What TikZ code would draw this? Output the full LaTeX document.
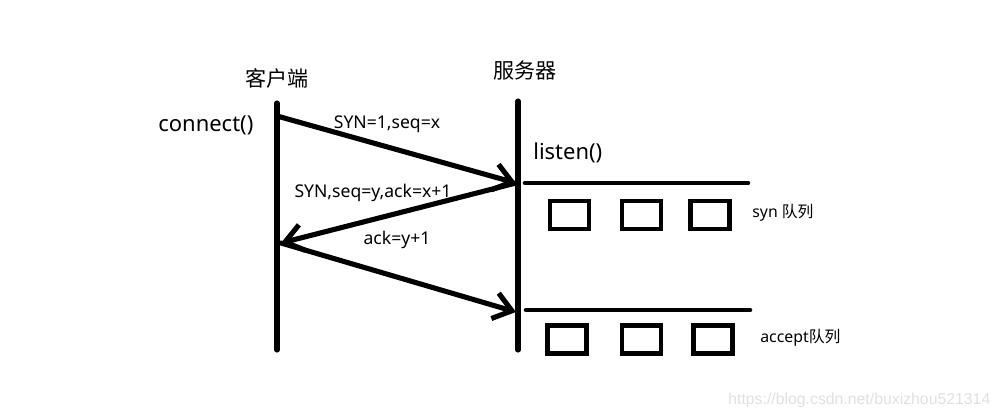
\documentclass[tikz,border=0pt]{standalone}
\usepackage{fontspec}
\setmainfont{Noto Sans}
\newfontfamily\cjk{Noto Sans CJK SC}
\newfontfamily\markfont{Liberation Sans}
\usetikzlibrary{arrows.meta, positioning}

\begin{document}
\begin{tikzpicture}[
    x=0.02cm, y=-0.02cm,
    line cap=round,
    life/.style={line width=2.9pt},
    msg/.style={line width=2.9pt, -{Straight Barb[length=10pt, width=15pt, line width=2.9pt]}},
    queue/.style={line width=2.6pt},
    slot/.style={draw, line width=2.3pt, minimum width=0.78cm, minimum height=0.56cm, inner sep=0pt},
    lbl/.style={font=\fontsize{10}{12}\selectfont, inner sep=1pt},
    title/.style={font=\cjk\fontsize{12}{14}\selectfont, inner sep=1pt},
  ]
    \useasboundingbox (0,0) rectangle (1000,419);

    % lifelines
    \coordinate (cTop) at (277,103);
    \coordinate (cBot) at (277,350);
    \coordinate (sTop) at (518,101);
    \coordinate (sBot) at (518,350);
    \draw[life] (cTop) -- (cBot);
    \draw[life] (sTop) -- (sBot);

    \node[title] (client) at (277,78) {客户端};
    \node[title] (server) at (525,70) {服务器};
    \node[font=\fontsize{12.5}{14}\selectfont, anchor=west, inner sep=0pt] (connect) at (158,125) {connect()};
    \node[font=\fontsize{12.5}{14}\selectfont, anchor=west, inner sep=0pt] (listen) at (533,153) {listen()};

    % handshake
    \coordinate (c1) at (277,116);
    \coordinate (s1) at (516,183);
    \coordinate (c2) at (281,243);
    \coordinate (s2) at (516,312);
    \draw[msg] (c1) -- (s1);
    \draw[msg] (s1) -- (c2);
    \draw[msg] (c2) -- (s2);

    \node[lbl] (syn) at (387,124) {SYN=1,seq=x};
    \node[lbl] (synack) at (373,193) {SYN,seq=y,ack=x+1};
    \node[lbl] (ack) at (397,240) {ack=y+1};

    % syn queue
    \coordinate (q1a) at (525,183);
    \coordinate (q1b) at (748,183);
    \draw[queue] (q1a) -- (q1b);
    \node[slot] (syn1) at (569.5,215) {};
    \node[slot] (syn2) at (641.5,215) {};
    \node[slot] (syn3) at (710,215) {};
    \node[font=\fontsize{9}{10}\selectfont, anchor=west, inner sep=0pt] (synq) at (752,213) {syn {\cjk 队列}};

    % accept queue
    \coordinate (q2a) at (526,310);
    \coordinate (q2b) at (750,310);
    \draw[queue] (q2a) -- (q2b);
    \node[slot] (acc1) at (567,339.5) {};
    \node[slot] (acc2) at (641.5,339.5) {};
    \node[slot] (acc3) at (713,339.5) {};
    \node[font=\fontsize{9}{10}\selectfont, anchor=west, inner sep=0pt] (accq) at (760,338) {accept{\cjk 队列}};

    \node[font=\markfont\fontsize{9}{10}\selectfont, text=black!12, anchor=west, inner sep=0pt] (mark) at (728,400) {https://blog.csdn.net/buxizhou521314};
  \end{tikzpicture}
\end{document}
